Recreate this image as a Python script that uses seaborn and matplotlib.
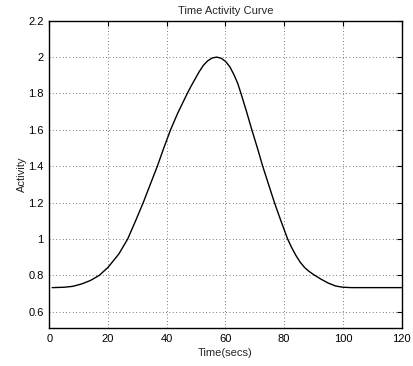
import numpy as np
import pandas as pd
import seaborn as sns
import matplotlib
matplotlib.use("Agg")
import matplotlib.pyplot as plt

# points
time_secs = [1, 5, 8, 11, 14, 17, 20, 23.7, 26.7, 29.4, 32, 34.4, 36.8, 39, 41.3,
             43.7, 45.5, 47, 48.3, 49.5, 51, 52.5, 54, 55.5, 57, 58.5, 60, 61.5, 63,
             64.2, 65.3, 67.2, 69, 70.9, 72.7, 74.7, 76.7, 78.9, 81.2, 82.5, 84,
             85.5, 87, 88.5, 90, 92.5, 95, 97.5, 100, 103, 120]
activity = [0.733, 0.735, 0.740, 0.753, 0.772, 0.800, 0.844, 0.918, 1.00, 1.10, 1.20,
            1.30, 1.40, 1.50, 1.60, 1.69, 1.75, 1.80, 1.84, 1.875, 1.918, 1.955,
            1.980, 1.995, 2.00, 1.994, 1.977, 1.947, 1.90, 1.855, 1.80, 1.70, 1.60,
            1.50, 1.40, 1.30, 1.20, 1.10, 1.00, 0.955, 0.91, 0.872, 0.843, 0.822,
            0.805, 0.780, 0.758, 0.742, 0.735, 0.733, 0.733]

x_ticks = [0, 20, 40, 60, 80, 100, 120]
y_ticks = [0.6, 0.8, 1.0, 1.2, 1.4, 1.6, 1.8, 2.0, 2.2]
y_labels = ["0.6", "0.8", "1", "1.2", "1.4", "1.6", "1.8", "2", "2.2"]

df = pd.DataFrame({"Time": time_secs, "Activity": activity})

sns.set_style("white")
plt.rcParams['font.family'] = ['Liberation Sans', 'DejaVu Sans']

fig = plt.figure(figsize=(4.14, 3.66), dpi=100)
ax = fig.add_axes([0.119, 0.1038, 0.851, 0.8396])

sns.lineplot(data=df, x="Time", y="Activity", color="black", linewidth=1.0, ax=ax)

ax.set_xlim(0, 120)
ax.set_ylim(0.511, 2.2)
ax.set_xticks(x_ticks)
ax.set_yticks(y_ticks)
ax.set_yticklabels(y_labels)
ax.grid(True, linestyle=(0, (1, 3)), color="black", linewidth=0.6, alpha=0.7)
ax.tick_params(direction="in", length=3.5, width=0.8, top=True, right=True,
               labelsize=8, colors="black", pad=4)
for s in ax.spines.values():
    s.set_color("black")
    s.set_linewidth(1.0)

ax.set_title("Time Activity Curve", fontsize=8, pad=5)
ax.set_xlabel("Time(secs)", fontsize=8, labelpad=3)
ax.set_ylabel("Activity", fontsize=8)
ax.yaxis.set_label_coords(-0.064, 0.5)

fig.savefig("out.png", dpi=100)
